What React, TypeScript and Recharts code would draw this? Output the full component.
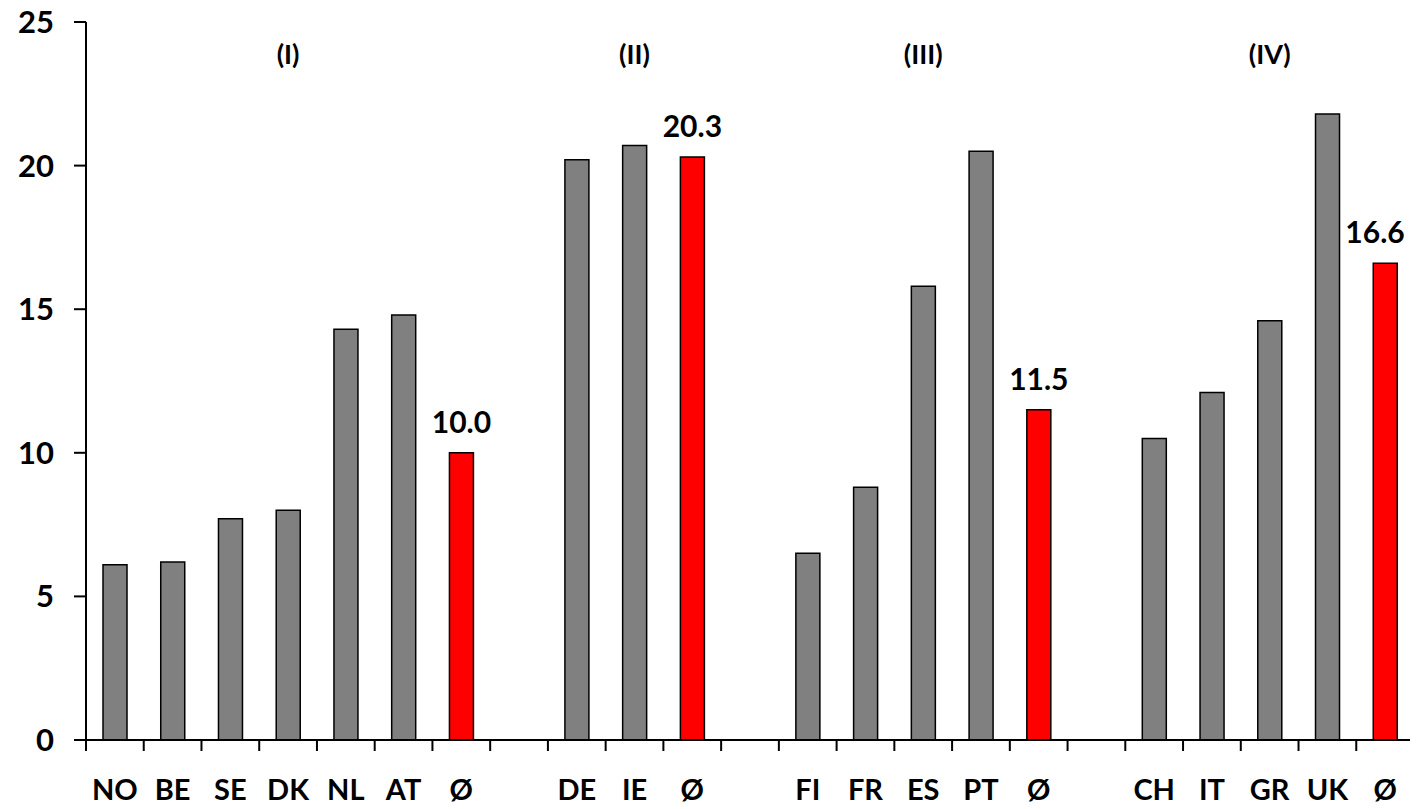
import { BarChart, Bar, XAxis, YAxis, Cell, LabelList, ReferenceDot } from 'recharts';

// slot keys ("g" entries are the empty gaps between groups)
const categories = ['NO', 'BE', 'SE', 'DK', 'NL', 'AT', 'Ø1', 'g1', 'DE', 'IE', 'Ø2', 'g2', 'FI', 'FR', 'ES', 'PT', 'Ø3', 'g3', 'CH', 'IT', 'GR', 'UK', 'Ø4'];
const values = [6.1, 6.2, 7.7, 8.0, 14.3, 14.8, 10.0, null, 20.2, 20.7, 20.3, null, 6.5, 8.8, 15.8, 20.5, 11.5, null, 10.5, 12.1, 14.6, 21.8, 16.6];
const yTicks = [0, 5, 10, 15, 20, 25];
const groupLabels = ['(I)', '(II)', '(III)', '(IV)'];
const groupCenters = ['DK', 'IE', 'ES', 'GR'];

const data = categories.map((cat, i) => {
  const isAvg = cat.startsWith('Ø');
  return {
    cat,
    value: values[i],
    isAvg,
    avgLabel: isAvg ? values[i] : undefined,
  };
});

const FONT = 'Lato, "DejaVu Sans", sans-serif';
const WIDTH = 1410;
const HEIGHT = 801;
const Y_AXIS_W = 78;
const RIGHT = 4;

const tickLabel = (cat: string) => (cat.startsWith('g') ? '' : cat.startsWith('Ø') ? 'Ø' : cat);

function XTick(props: any) {
  const { x, y, payload } = props;
  const half = payload.offset || (WIDTH - Y_AXIS_W - RIGHT) / categories.length / 2;
  return (
    <g>
      <line x1={x - half} x2={x - half} y1={y} y2={y + 11} stroke="#000" strokeWidth={2} />
      <text x={x} y={y + 60} textAnchor="middle" fontFamily={FONT} fontWeight={700} fontSize={29} fill="#000">
        {tickLabel(payload.value)}
      </text>
    </g>
  );
}

function YTick(props: any) {
  const { x, y, payload } = props;
  return (
    <text x={x} y={y} dy={11} textAnchor="end" fontFamily={FONT} fontWeight={700} fontSize={31} fill="#000">
      {payload.value}
    </text>
  );
}

function AvgLabel(props: any) {
  const { x, y, width, value } = props;
  if (value === undefined || value === null || value === '') return null;
  // keep the last label inside the picture
  const right = x + width / 2 + 31;
  const cx = right > WIDTH - 12 ? x + width / 2 - (right - (WIDTH - 12)) : x + width / 2;
  return (
    <text x={cx} y={y - 20} textAnchor="middle" fontFamily={FONT} fontWeight={700} fontSize={30} fill="#000">
      {Number(value).toFixed(1)}
    </text>
  );
}

function GroupLabel(text: string) {
  return (props: any) => {
    const { viewBox } = props;
    const cx = viewBox.x + (viewBox.width || 0) / 2;
    const cy = viewBox.y + (viewBox.height || 0) / 2;
    return (
      <text x={cx} y={cy} textAnchor="middle" dominantBaseline="central" fontFamily={FONT} fontWeight={700} fontSize={27} fill="#000">
        {text}
      </text>
    );
  };
}

export default function App() {
  return (
    <div style={{ width: WIDTH, height: HEIGHT, background: '#fff' }}>
      <BarChart
        width={WIDTH}
        height={HEIGHT}
        data={data}
        margin={{ top: 14, right: RIGHT, bottom: 0, left: 0 }}
        barSize={24}
        style={{ overflow: 'visible' }}
      >
        <XAxis
          dataKey="cat"
          interval={0}
          height={69}
          tickLine={false}
          tickSize={0}
          tickMargin={0}
          axisLine={{ stroke: '#000', strokeWidth: 2 }}
          tick={<XTick />}
        />
        <YAxis
          width={Y_AXIS_W}
          domain={[0, 25]}
          ticks={yTicks}
          interval={0}
          tickSize={12}
          tickMargin={20}
          axisLine={{ stroke: '#000', strokeWidth: 2 }}
          tickLine={{ stroke: '#000', strokeWidth: 2 }}
          tick={<YTick />}
        />
        <Bar dataKey="value" stroke="#000" strokeWidth={1.5} isAnimationActive={false}>
          {data.map((d) => (
            <Cell key={d.cat} fill={d.isAvg ? '#FF0000' : '#808080'} />
          ))}
          <LabelList dataKey="avgLabel" content={<AvgLabel />} />
        </Bar>
        {groupLabels.map((g, i) => (
          <ReferenceDot key={g} x={groupCenters[i]} y={23.9} r={0} fill="none" stroke="none" label={GroupLabel(g)} />
        ))}
      </BarChart>
    </div>
  );
}
